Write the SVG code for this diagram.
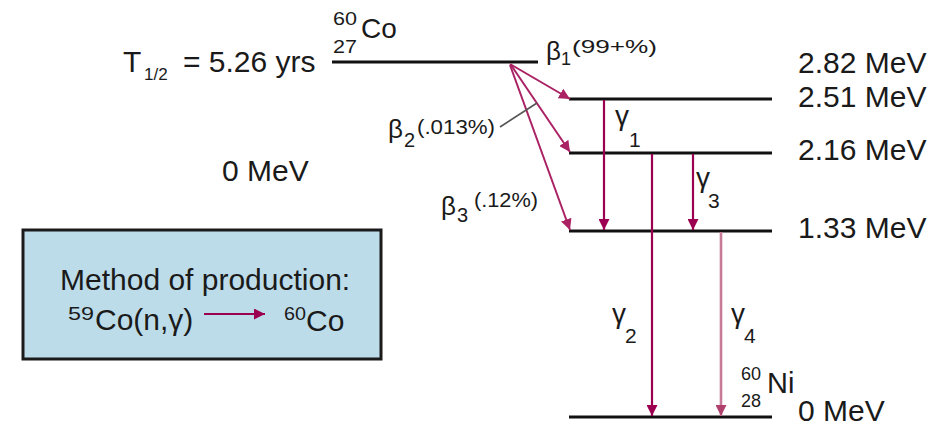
<svg xmlns="http://www.w3.org/2000/svg" width="942" height="426" viewBox="0 0 942 426">
<style>
text{font-family:"Liberation Sans",Arial,sans-serif;fill:#1a1a1a}
.big{font-size:30px}
.sm{font-size:18px}
.lvl{stroke:#111;stroke-width:3;fill:none}
.beta{stroke:#aa2263;stroke-width:2;fill:none}
.gam{stroke:#9c0050;stroke-width:2.2;fill:none}
</style>
<defs>
<marker id="ah" viewBox="0 0 10 10" refX="10" refY="5" markerWidth="11" markerHeight="11" markerUnits="userSpaceOnUse" orient="auto"><path d="M0,0L10,5L0,10z" fill="#9c0050"/></marker>
<marker id="ahb" viewBox="0 0 10 10" refX="10" refY="5" markerWidth="11" markerHeight="11" markerUnits="userSpaceOnUse" orient="auto"><path d="M0,0L10,5L0,10z" fill="#aa2263"/></marker>
<marker id="ahl" viewBox="0 0 10 10" refX="10" refY="5" markerWidth="11" markerHeight="11" markerUnits="userSpaceOnUse" orient="auto"><path d="M0,0L10,5L0,10z" fill="#b0406e"/></marker>
</defs>

<g id="parent">
<line class="lvl" x1="332" y1="62" x2="538" y2="62"/>
<text class="big" x="123" y="72">T</text>
<text x="144" y="80" style="font-size:17px">1/2</text>
<text class="big" x="183" y="72">= 5.26 yrs</text>
<text class="sm" x="333" y="25" textLength="24" lengthAdjust="spacingAndGlyphs">60</text>
<text class="sm" x="333" y="53" textLength="24" lengthAdjust="spacingAndGlyphs">27</text>
<text x="361" y="38" style="font-size:28px">Co</text>
</g>

<g id="left-zero"><text class="big" x="222" y="181">0 MeV</text></g>

<g id="levels">
<line class="lvl" x1="569" y1="99" x2="772" y2="99"/>
<line class="lvl" x1="569" y1="153" x2="772" y2="153"/>
<line class="lvl" x1="569" y1="231" x2="772" y2="231"/>
<line class="lvl" x1="569" y1="417" x2="772" y2="417"/>
</g>

<g id="energy-labels">
<text class="big" x="798" y="73">2.82 MeV</text>
<text class="big" x="798" y="107">2.51 MeV</text>
<text class="big" x="798" y="160">2.16 MeV</text>
<text class="big" x="798" y="238">1.33 MeV</text>
<text class="big" x="798" y="421">0 MeV</text>
</g>

<g id="ni">
<text class="sm" x="741" y="380">60</text>
<text class="sm" x="741" y="407">28</text>
<text x="767" y="393" style="font-size:29px">Ni</text>
</g>

<g id="connectors">
<line class="beta" x1="510" y1="64" x2="570" y2="99" marker-end="url(#ahb)"/>
<line class="beta" x1="511" y1="65" x2="570" y2="152" marker-end="url(#ahb)"/>
<line class="beta" x1="510" y1="65" x2="570" y2="230" marker-end="url(#ahb)"/>
<line x1="500" y1="127" x2="537" y2="103" stroke="#555" stroke-width="1.6"/>
<line class="gam" x1="604" y1="100" x2="604" y2="230" marker-end="url(#ah)"/>
<line class="gam" x1="652" y1="154" x2="652" y2="416" stroke-width="3.2" marker-end="url(#ah)"/>
<line class="gam" x1="693" y1="154" x2="693" y2="230" marker-end="url(#ah)"/>
<line x1="721" y1="232" x2="721" y2="416" stroke="#c77b98" stroke-width="2.6" marker-end="url(#ahl)"/>
</g>

<g id="beta-labels">
<text x="546" y="60" style="font-size:26px">β</text>
<text class="sm" x="561" y="65">1</text>
<text x="572" y="53" style="font-size:19px" textLength="85" lengthAdjust="spacingAndGlyphs">(99+%)</text>
<text x="388" y="138" style="font-size:26px">β</text>
<text x="404" y="147" style="font-size:20px">2</text>
<text x="417" y="134" style="font-size:20px" textLength="78" lengthAdjust="spacingAndGlyphs">(.013%)</text>
<text x="441" y="215" style="font-size:26px">β</text>
<text x="457" y="222" style="font-size:20px">3</text>
<text x="474" y="207" style="font-size:20px" textLength="64" lengthAdjust="spacingAndGlyphs">(.12%)</text>
</g>

<g id="gamma-labels">
<text x="615" y="125" style="font-size:28px">γ</text>
<text x="629" y="147" style="font-size:21px">1</text>
<text x="696" y="187" style="font-size:28px">γ</text>
<text x="708" y="208" style="font-size:21px">3</text>
<text x="612" y="323" style="font-size:28px">γ</text>
<text x="625" y="343" style="font-size:21px">2</text>
<text x="731" y="323" style="font-size:28px">γ</text>
<text x="744" y="343" style="font-size:21px">4</text>
</g>

<g id="production-box">
<rect x="23" y="230" width="358" height="129" fill="#bddce9" stroke="#1a1a1a" stroke-width="3"/>
<text class="big" x="60" y="290">Method of production:</text>
<text x="68" y="320" style="font-size:18px" textLength="26" lengthAdjust="spacingAndGlyphs">59</text>
<text class="big" x="95" y="330">Co(n,γ)</text>
<line x1="204" y1="314" x2="265" y2="314" stroke="#9c0050" stroke-width="2.2" marker-end="url(#ah)"/>
<text x="284" y="320" style="font-size:18px" textLength="22" lengthAdjust="spacingAndGlyphs">60</text>
<text class="big" x="306" y="331">Co</text>
</g>
</svg>
